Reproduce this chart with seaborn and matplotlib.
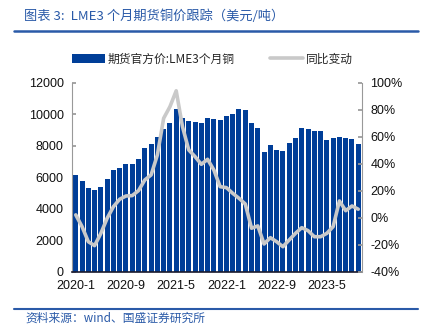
import matplotlib
matplotlib.use("Agg")
import matplotlib.pyplot as plt
import seaborn as sns
import pandas as pd
import numpy as np
from matplotlib.patches import Patch
from matplotlib.lines import Line2D

# ---- data ----
months = [f"{y}-{m}" for y in (2020, 2021, 2022, 2023) for m in range(1, 13)][:46]
price = [6135, 5772, 5289, 5181, 5353, 5861, 6452, 6580, 6815, 6815, 7171, 7870,
         8087, 8550, 9059, 9421, 10311, 9739, 9568, 9485, 9440, 9739, 9695, 9631,
         9866, 9993, 10350, 10286, 9460, 9122, 7616, 8061, 7743, 7641, 8150, 8487,
         9103, 9078, 8951, 8913, 8379, 8487, 8570, 8487, 8404, 8106]
yoy = [2.0, -6.7, -17.9, -20.8, -11.7, -0.5, 8.1, 13.6, 16.0, 16.3, 20.0, 27.9,
       31.6, 46.4, 73.6, 82.2, 94.0, 67.4, 50.1, 45.2, 39.5, 43.2, 35.3, 22.9,
       22.2, 18.0, 14.3, 10.1, -7.9, -6.2, -19.6, -14.9, -17.9, -21.6, -16.6, -11.7,
       -7.5, -9.7, -14.2, -14.2, -11.7, -6.7, 12.3, 5.1, 8.6, 6.2]
xtick_labels = ["2020-1", "2020-9", "2021-5", "2022-1", "2022-9", "2023-5"]
left_ticks = [0, 2000, 4000, 6000, 8000, 10000, 12000]
right_ticks = [-40, -20, 0, 20, 40, 60, 80, 100]

bar_name = "期货官方价:LME3个月铜"
line_name = "同比变动"
title = "图表 3:  LME3 个月期货铜价跟踪（美元/吨）"
source = "资料来源：wind、国盛证券研究所"

df = pd.DataFrame({"month": months, "price": price, "yoy": yoy})
df["pos"] = np.arange(len(df))

BLUE = "#003E98"
GRAY = "#C9C9C9"
TXT_BLUE = "#2A5AA8"
CJK = ["Noto Sans CJK SC", "DejaVu Sans"]

sns.set_theme(style="white")
plt.rcParams["font.family"] = ["Liberation Sans", "Noto Sans CJK SC", "DejaVu Sans"]

fig = plt.figure(figsize=(4.25, 3.34), dpi=100)
ax = fig.add_axes([0.1694, 0.1871, 0.6824, 0.5653])

sns.barplot(data=df, x="month", y="price", color=BLUE, saturation=1,
            width=0.8, ax=ax, edgecolor="none")
ax.set_xlim(-0.6, len(df) - 0.4)
ax.set_ylim(0, 12000)
ax.set_yticks(left_ticks)
ax.set_yticklabels([str(t) for t in left_ticks], fontsize=9, color="#111")
idx = [months.index(l) for l in xtick_labels]
ax.set_xticks(idx)
ax.set_xticklabels(xtick_labels, fontsize=9, color="#111")
ax.set_xlabel("")
ax.set_ylabel("")
ax.tick_params(axis="x", length=0, pad=6)
ax.tick_params(axis="y", direction="in", length=3, color="#999", pad=6)
for s in ("top", "right"):
    ax.spines[s].set_visible(False)
ax.spines["left"].set_color("#999")
ax.spines["left"].set_linewidth(0.8)
ax.spines["bottom"].set_color("#1a1a2e")
ax.spines["bottom"].set_linewidth(1.2)

ax2 = ax.twinx()
sns.lineplot(data=df, x="pos", y="yoy", color=GRAY, linewidth=2.6, ax=ax2)
ax2.set_ylim(-40, 100)
ax2.set_yticks(right_ticks)
ax2.set_yticklabels([f"{t}%" for t in right_ticks], fontsize=9, color="#111")
ax2.set_ylabel("")
ax2.set_xlabel("")
ax2.set_xlim(-0.6, len(df) - 0.4)
ax2.tick_params(axis="y", direction="in", length=3, color="#999", pad=6)
for s in ("top", "left", "bottom"):
    ax2.spines[s].set_visible(False)
ax2.spines["right"].set_color("#999")
ax2.spines["right"].set_linewidth(0.8)

handles = [Patch(facecolor=BLUE, edgecolor="none"),
           Line2D([0], [0], color=GRAY, linewidth=2.6)]
leg = fig.legend(handles, [bar_name, line_name], loc="center",
                 bbox_to_anchor=(0.50, 0.823), ncol=2, frameon=False,
                 handlelength=2.8, handleheight=0.7, columnspacing=3.0,
                 handletextpad=0.2, prop={"family": CJK, "size": 8.5})

fig.text(24 / 425, 1 - 16 / 334, title, fontsize=9.5, color=TXT_BLUE,
         family=CJK, va="center", ha="left", style="italic")
fig.add_artist(Line2D([14 / 425, 418 / 425], [1 - 30.7 / 334] * 2,
                      color=TXT_BLUE, linewidth=1.8))
fig.add_artist(Line2D([14 / 425, 418 / 425], [1 - 309 / 334] * 2,
                      color=TXT_BLUE, linewidth=1.5))
fig.text(25 / 425, 1 - 318.5 / 334, source, fontsize=8.5, color=TXT_BLUE,
         family=CJK, va="center", ha="left", style="italic")

fig.savefig("out.png", dpi=100, facecolor="white")
